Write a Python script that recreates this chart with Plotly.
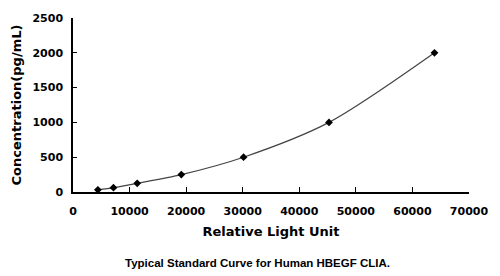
import plotly.graph_objects as go

rlu = [4400, 7150, 11350, 19150, 30150, 45250, 63900]
conc = [31.25, 62.5, 125, 250, 500, 1000, 2000]

x_ticks = [0, 10000, 20000, 30000, 40000, 50000, 60000, 70000]
y_ticks = [0, 500, 1000, 1500, 2000, 2500]

fig = go.Figure()
fig.add_trace(go.Scatter(
    x=rlu, y=conc, mode="lines+markers",
    line=dict(color="#444444", width=1.2, shape="spline", smoothing=0.8),
    marker=dict(symbol="diamond", size=6, color="black"),
    showlegend=False,
))

tickfont = dict(family="DejaVu Sans", size=11, color="black")
fig.update_xaxes(
    range=[0, 70000], tickvals=x_ticks, ticktext=["<b>%d</b>" % v for v in x_ticks],
    showline=True, linecolor="black", linewidth=1.5, mirror=False,
    ticks="inside", ticklen=5, tickwidth=1.2, tickcolor="black",
    showgrid=False, zeroline=False, tickfont=tickfont, ticklabelstandoff=8,
    title=dict(text="<b>Relative Light Unit</b>",
               font=dict(family="DejaVu Sans", size=13, color="black"), standoff=10),
)
fig.update_yaxes(
    range=[0, 2500], tickvals=y_ticks, ticktext=["<b>%d</b>" % v for v in y_ticks],
    showline=True, linecolor="black", linewidth=1.5, mirror=False,
    ticks="inside", ticklen=4, tickwidth=1.2, tickcolor="black",
    showgrid=False, zeroline=False, tickfont=tickfont, ticklabelstandoff=6,
    title=dict(text="<b>Concentration(pg/mL)</b>",
               font=dict(family="DejaVu Sans", size=13, color="black"), standoff=8),
)
fig.update_layout(
    width=500, height=276,
    margin=dict(l=73, r=28, t=16, b=84),
    plot_bgcolor="white", paper_bgcolor="white",
    font=dict(family="DejaVu Sans", color="black"),
    annotations=[dict(
        text="<b>Typical Standard Curve for Human HBEGF CLIA.</b>",
        x=(259 - 73) / 399, y=-(264 - 16 - 176) / 176, xref="paper", yref="paper",
        showarrow=False, yanchor="middle",
        font=dict(family="Liberation Sans", size=11.5, color="black"),
    )],
)
fig.write_html("out.html")
